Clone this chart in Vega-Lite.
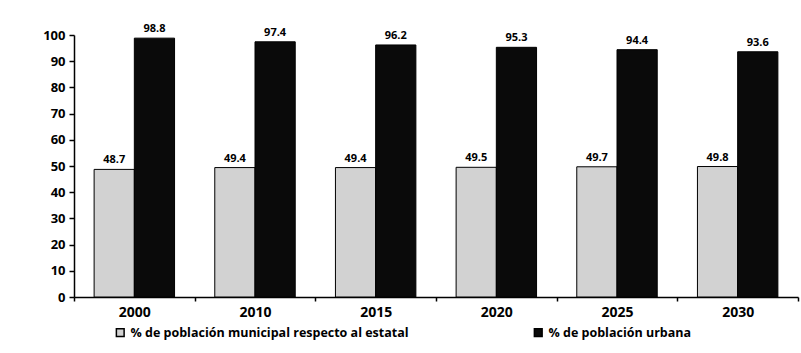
{
  "$schema": "https://vega.github.io/schema/vega-lite/v6.json",
  "autosize": "none",
  "width": 724,
  "height": 262,
  "padding": {"left": 74, "top": 35, "right": 3, "bottom": 56},
  "background": "white",
  "config": {
    "view": {"stroke": null},
    "font": "Open Sans"
  },
  "data": {
    "values": [
      {"year": "2000", "serie": "% de población municipal respecto al estatal", "value": 48.7},
      {"year": "2000", "serie": "% de población urbana", "value": 98.8},
      {"year": "2010", "serie": "% de población municipal respecto al estatal", "value": 49.4},
      {"year": "2010", "serie": "% de población urbana", "value": 97.4},
      {"year": "2015", "serie": "% de población municipal respecto al estatal", "value": 49.4},
      {"year": "2015", "serie": "% de población urbana", "value": 96.2},
      {"year": "2020", "serie": "% de población municipal respecto al estatal", "value": 49.5},
      {"year": "2020", "serie": "% de población urbana", "value": 95.3},
      {"year": "2025", "serie": "% de población municipal respecto al estatal", "value": 49.7},
      {"year": "2025", "serie": "% de población urbana", "value": 94.4},
      {"year": "2030", "serie": "% de población municipal respecto al estatal", "value": 49.8},
      {"year": "2030", "serie": "% de población urbana", "value": 93.6}
    ]
  },
  "encoding": {
    "x": {
      "field": "year", "type": "nominal", "title": null,
      "scale": {"paddingInner": 0, "paddingOuter": 0},
      "axis": {
        "tickBand": "extent", "labelAngle": 0, "labelFont": "Open Sans", "labelFontWeight": "bold",
        "labelFontSize": 14, "labelColor": "#000", "domainColor": "#000", "domainWidth": 1.5,
        "tickColor": "#000", "tickSize": 4, "tickWidth": 1.5, "labelPadding": 4
      }
    },
    "xOffset": {
      "field": "serie", "type": "nominal",
      "scale": {"paddingOuter": 0.5, "paddingInner": 0}
    },
    "y": {
      "field": "value", "type": "quantitative", "title": null,
      "scale": {"domain": [0, 100]},
      "axis": {
        "values": [0, 10, 20, 30, 40, 50, 60, 70, 80, 90, 100], "grid": false,
        "labelFont": "Open Sans", "labelFontWeight": "bold", "labelFontSize": 13, "labelColor": "#000",
        "domainColor": "#000", "domainWidth": 1.5, "tickColor": "#000", "tickSize": 5, "tickWidth": 1.5,
        "labelPadding": 4
      }
    }
  },
  "layer": [
    {
      "mark": {"type": "bar", "stroke": "#000", "strokeWidth": 1},
      "encoding": {
        "color": {
          "field": "serie", "type": "nominal",
          "scale": {"domain": ["% de población municipal respecto al estatal", "% de población urbana"], "range": ["#d2d2d2", "#0a0a0a"]},
          "legend": {
            "title": null, "orient": "none", "direction": "horizontal", "legendX": 40, "legendY": 291,
            "symbolType": "square", "symbolSize": 60, "symbolStrokeColor": "#000",
            "labelFont": "Open Sans", "labelFontSize": 12.5, "labelFontWeight": "bold", "labelColor": "#000",
            "columnPadding": 122, "labelLimit": 400
          }
        }
      }
    },
    {
      "mark": {"type": "text", "dy": -9, "font": "Open Sans", "fontWeight": "bold", "fontSize": 11, "color": "#000"},
      "encoding": {
        "text": {"field": "value", "type": "quantitative", "format": ".1f"}
      }
    }
  ]
}
